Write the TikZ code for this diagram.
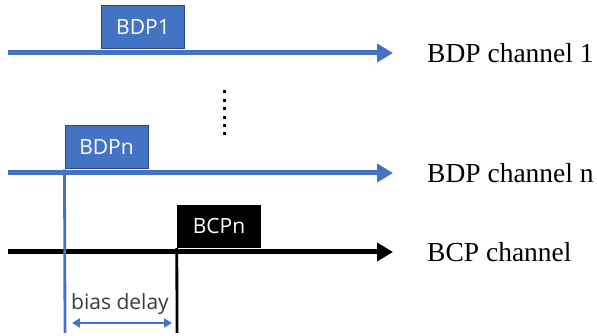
\documentclass[tikz,border=0pt]{standalone}
\usepackage{fontspec}
\setmainfont{Liberation Serif}
\newfontfamily\boxfont{Open Sans}
\usetikzlibrary{arrows.meta}
\definecolor{bdpblue}{HTML}{4472C4}
\definecolor{bdpedge}{HTML}{2B4677}
\definecolor{delaygray}{HTML}{3A3A3A}
\tikzstyle{bdp}=[draw=bdpedge,line width=1pt,fill=bdpblue,text=white,inner sep=0pt,
    minimum width=83pt,minimum height=43pt,font=\boxfont\fontsize{21}{24}\selectfont]
\tikzstyle{bcp}=[fill=black,text=white,inner sep=0pt,
    minimum width=84pt,minimum height=43pt,font=\boxfont\fontsize{21}{24}\selectfont]
\tikzstyle{chan}=[-{Triangle[length=16pt,width=18pt]},line width=5pt]
\tikzstyle{lbl}=[anchor=base west,inner sep=0pt,font=\fontsize{27.5}{30}\selectfont]
\tikzstyle{tickline}=[line width=2.8pt]
\tikzstyle{span}=[{Triangle[length=8pt,width=9pt]}-{Triangle[length=8pt,width=9pt]},
    line width=2.4pt,bdpblue]

\begin{document}
\begin{tikzpicture}[x=1pt,y=1pt]
\useasboundingbox (0,0) rectangle (597,336);

\coordinate (s1) at (8,283);  \coordinate (e1) at (393,283);
\coordinate (sn) at (8,163);  \coordinate (en) at (393,163);
\coordinate (sc) at (8,84);   \coordinate (ec) at (393,84);
\coordinate (bn) at (65,3);   \coordinate (bc) at (177,3);
\coordinate (d1) at (72,13);  \coordinate (d2) at (172,13);

\draw[chan,bdpblue] (s1) -- (e1);
\draw[chan,bdpblue] (sn) -- (en);
\draw[chan,black] (sc) -- (ec);

\node[bdp] (P1) at (143,309) {BDP1};
\node[bdp] (Pn) at (106.5,188.5) {BDPn};
\node[bcp] (Cn) at (219,109.5) {BCPn};

\node[lbl] (L1) at (427,273.5) {BDP channel 1};
\node[lbl] (Ln) at (427,153.5) {BDP channel n};
\node[lbl] (Lc) at (427,74.5) {BCP channel};

\foreach \i in {0,...,5}
    \fill (222.5,242.5-8.4*\i) rectangle +(3,3);

\draw[tickline,bdpblue] (Pn.south west) -- (bn);
\draw[tickline,black] (Cn.south west) -- (bc);

\draw[span] (d1) -- (d2);
\node[anchor=base,inner sep=0pt,text=delaygray,font=\boxfont\fontsize{21}{24}\selectfont]
    (bias) at (120,26) {bias delay};
\end{tikzpicture}
\end{document}
